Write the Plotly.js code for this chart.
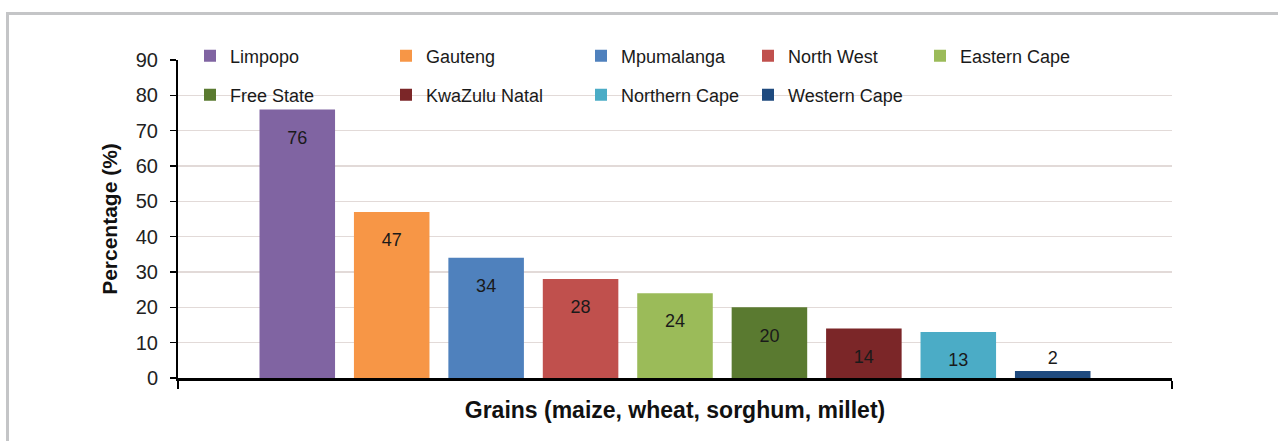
<!DOCTYPE html>
<html>
<head>
<meta charset="utf-8">
<script src="https://cdn.plot.ly/plotly-3.0.1.min.js"></script>
<style>html,body{margin:0;padding:0;background:#fff;}#chart{width:1278px;height:441px;}</style>
</head>
<body>
<div id="chart"></div>
<script>
const provinces = ["Limpopo","Gauteng","Mpumalanga","North West","Eastern Cape","Free State","KwaZulu Natal","Northern Cape","Western Cape"];
const values = [76, 47, 34, 28, 24, 20, 14, 13, 2];
const category = ["Grains"];
const colors = ["#8064a2","#f79646","#4f81bd","#c0504d","#9bbb59","#5a7a30","#7b2628","#4bacc6","#1f4a7e"];
const yTicks = [0,10,20,30,40,50,60,70,80,90];

// legend layout: column pixel offsets, row pixel y (style only)
const legendColPx = [212, 408, 603, 770, 942];
const legendRowPx = [56, 95];

const L = 178, R = 1172, T = 60, B = 378;
const px2x = p => (p - L) / (R - L);
const px2y = p => (B - p) / (B - T);

const traces = provinces.map((name, i) => {
  const small = values[i] < 5;
  return {
    type: "bar",
    name: name,
    x: category,
    y: [values[i]],
    text: [String(values[i])],
    texttemplate: small ? "%{text}" : "\u00a0<br><span style='font-size:18px'>%{text}</span>",
    textposition: small ? "outside" : "inside",
    insidetextanchor: "end",
    constraintext: "none",
    cliponaxis: false,
    textangle: 0,
    textfont: {family: "Liberation Sans, Arial, sans-serif", size: small ? 18 : 14, color: "#1a1a1a"},
    marker: {color: colors[i]},
    legend: i === 0 ? "legend" : "legend" + (i + 1),
    hoverinfo: "name+y"
  };
});

const layout = {
  width: 1278, height: 441,
  margin: {l: L, r: 1278 - R, t: T, b: 441 - B},
  paper_bgcolor: "#ffffff",
  plot_bgcolor: "#ffffff",
  font: {family: "Liberation Sans, Arial, sans-serif", color: "#1a1a1a"},
  barmode: "group",
  bargap: 0.145,
  bargroupgap: 0.2,
  showlegend: true,
  xaxis: {
    type: "category",
    showticklabels: false,
    ticks: "outside",
    tickson: "boundaries",
    ticklen: 8,
    tickwidth: 2,
    tickcolor: "#000",
    showline: true,
    linecolor: "#000",
    linewidth: 2.5,
    showgrid: false,
    zeroline: false,
    fixedrange: true,
    title: {text: "Grains (maize, wheat, sorghum, millet)", font: {size: 23, color: "#111", weight: "bold"}, standoff: 23}
  },
  yaxis: {
    range: [0, 90],
    tickvals: yTicks,
    ticks: "outside",
    ticklen: 6,
    tickwidth: 1.5,
    tickcolor: "#000",
    tickfont: {size: 20, color: "#222"},
    ticklabelstandoff: 8,
    showline: true,
    linecolor: "#000",
    linewidth: 2,
    showgrid: true,
    gridcolor: "#e2dad8",
    gridwidth: 1.5,
    zeroline: false,
    fixedrange: true,
    title: {text: "Percentage (%)", font: {size: 21, color: "#111", weight: "bold"}, standoff: 12}
  },
  shapes: [{
    type: "rect", xref: "paper", yref: "paper",
    x0: px2x(7.5), x1: px2x(1300), y0: px2y(470), y1: px2y(13.5),
    line: {color: "#c4c5c7", width: 3}, fillcolor: "rgba(0,0,0,0)", layer: "above"
  }]
};

provinces.forEach((name, i) => {
  const key = i === 0 ? "legend" : "legend" + (i + 1);
  const col = i % 5, row = Math.floor(i / 5);
  layout[key] = {
    x: px2x(legendColPx[col] - 22),
    y: px2y(legendRowPx[row]),
    xanchor: "left",
    yanchor: "middle",
    bgcolor: "rgba(0,0,0,0)",
    borderwidth: 0,
    font: {size: 18, color: "#1a1a1a"},
    itemwidth: 30
  };
});

Plotly.newPlot("chart", traces, layout, {displayModeBar: false, staticPlot: true});
</script>
</body>
</html>
